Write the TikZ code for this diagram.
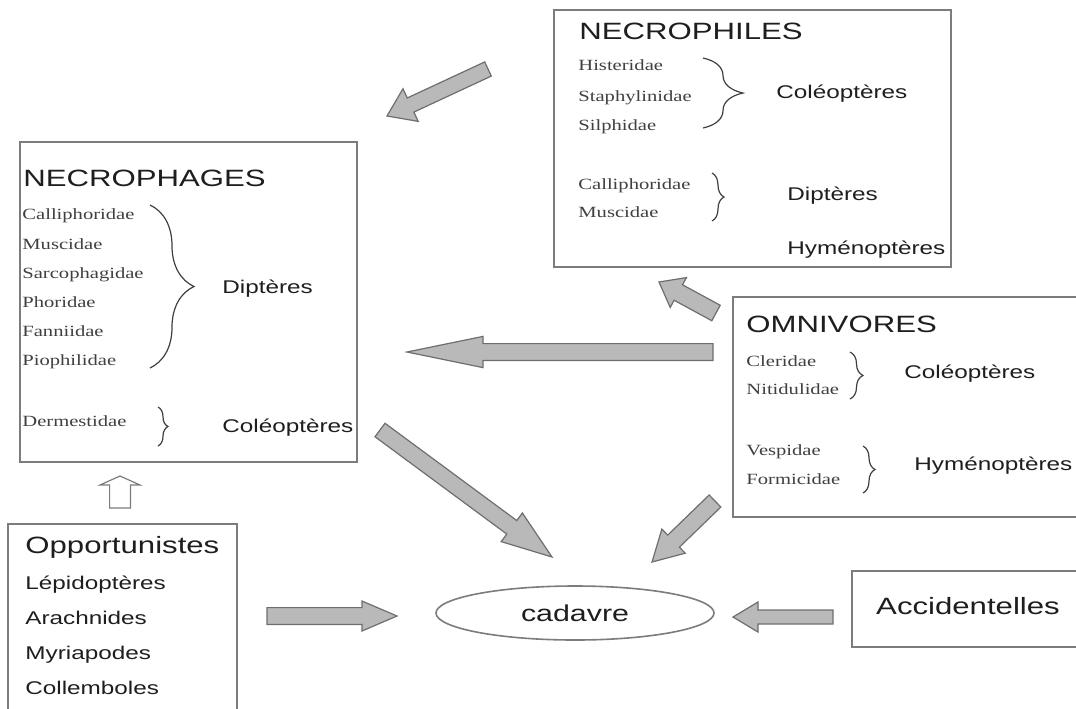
\documentclass[tikz,border=0pt]{standalone}
\usepackage{fontspec}
\setmainfont{Liberation Sans}[FakeStretch=1.32]
\newfontfamily\famfont{Liberation Serif}[FakeStretch=1.32]
\usepackage{tikz}
\usetikzlibrary{calc,shapes.geometric,decorations.pathreplacing}
\definecolor{boxgray}{HTML}{7C7C7C}
\definecolor{inkgray}{HTML}{1E1E1E}
\definecolor{famgray}{HTML}{404040}
\definecolor{arrowfill}{HTML}{B9B9B9}
\definecolor{arrowline}{HTML}{6E6E6E}
\tikzset{
  box/.style={draw=boxgray,line width=0.8pt},
  title/.style={anchor=west,inner sep=0,text height=.72em,text depth=0pt,text=inkgray,font=\fontsize{11.8}{14}\selectfont},
  order/.style={anchor=west,inner sep=0,text height=.72em,text depth=0pt,text=inkgray,font=\fontsize{9.2}{11}\selectfont},
  family/.style={anchor=west,inner sep=0,text height=.45em,text depth=0pt,text=famgray,font=\famfont\fontsize{7.8}{9}\selectfont},
  curly/.style={decorate,decoration={brace,amplitude=#1},draw=famgray,line width=0.6pt},
  grayarrow/.style={draw=arrowline,fill=arrowfill,line width=0.6pt,line join=miter}
}
% tail, tip, half shaft, half head, head length
\newcommand{\blockarrow}[6][]{%
  \path ($(#3)!#6!(#2)$) coordinate (hb);
  \draw[grayarrow,#1] ($(#2)!#4!-90:(#3)$) -- ($(hb)!#4!-90:(#3)$) -- ($(hb)!#5!-90:(#3)$) -- (#3)
    -- ($(hb)!#5!90:(#3)$) -- ($(hb)!#4!90:(#3)$) -- ($(#2)!#4!90:(#3)$) -- cycle;}

\begin{document}
\begin{tikzpicture}[x=0.5pt,y=-0.5pt]
\useasboundingbox (0,0) rectangle (1076,708);
\fill[white] (0,0) rectangle (1076,708);
\clip (0,0) rectangle (1076,708);

% boxes
\draw[box] (20,142) rectangle (357,462);
\draw[box] (554,10) rectangle (951,267);
\draw[box] (733,297) rectangle (1100,517);
\draw[box] (8,524) rectangle (237,730);
\draw[box] (852,571) rectangle (1100,647);

% necrophages
\node[title] (phages) at (23,179) {NECROPHAGES};
\node[family] (calli) at (22,215) {Calliphoridae};
\node[family] (musci) at (22,245) {Muscidae};
\node[family] (sarco) at (22,274) {Sarcophagidae};
\node[family] (phori) at (22,303) {Phoridae};
\node[family] (fanni) at (22,332) {Fanniidae};
\node[family] (piophi) at (22,361) {Piophilidae};
\node[family] (dermes) at (22,422) {Dermestidae};
\draw[curly=22pt] (150,205) -- (150,368);
\draw[curly=5pt] (158,407) -- (158,446);
\node[order] (phagesdipt) at (222,286) {Diptères};
\node[order] (phagescoleo) at (222,425) {Coléoptères};

% necrophiles
\node[title] (philes) at (579,32) {NECROPHILES};
\node[family] (hister) at (578,66) {Histeridae};
\node[family] (staphy) at (578,97) {Staphylinidae};
\node[family] (silphi) at (578,126) {Silphidae};
\node[family] (calli2) at (578,185) {Calliphoridae};
\node[family] (musci2) at (578,213) {Muscidae};
\draw[curly=20pt] (703,58) -- (703,128);
\draw[curly=6pt] (712,173) -- (712,221);
\node[order] (philescoleo) at (776,91) {Coléoptères};
\node[order] (philesdipt) at (787,193) {Diptères};
\node[order] (phileshymen) at (787,247) {Hyménoptères};

% omnivores
\node[title] (omni) at (746,325) {OMNIVORES};
\node[family] (cleri) at (746,362) {Cleridae};
\node[family] (nitidu) at (746,390) {Nitidulidae};
\node[family] (vespi) at (746,451) {Vespidae};
\node[family] (formi) at (746,480) {Formicidae};
\draw[curly=6.5pt] (850,352) -- (850,399);
\draw[curly=6pt] (863,446) -- (863,493);
\node[order] (omnicoleo) at (904,371) {Coléoptères};
\node[order] (omnihymen) at (914,463) {Hyménoptères};

% opportunistes
\node[title] (opport) at (25,546) {Opportunistes};
\node[order] (lepido) at (25,582) {Lépidoptères};
\node[order] (arach) at (25,617) {Arachnides};
\node[order] (myria) at (25,652) {Myriapodes};
\node[order] (collem) at (25,687) {Collemboles};

% cadavre, accidentelles
\node[ellipse,draw=boxgray,line width=0.8pt,minimum width=139pt,minimum height=27pt,inner sep=0,
  text=inkgray,font=\fontsize{11.5}{14}\selectfont] (cadavre) at (575,613) {cadavre};
\node[text=inkgray,inner sep=0,font=\fontsize{11.8}{14}\selectfont] (accid) at (968,606) {Accidentelles};

% arrows
\coordinate (philesout) at (488,69);
\coordinate (phagesin) at (387,116);
\coordinate (omniup) at (716,313);
\coordinate (philesin) at (659,282);
\coordinate (omnileft) at (713,352);
\coordinate (phagesin2) at (407,352);
\coordinate (phagesout) at (380,430);
\coordinate (cadtop) at (552,557);
\coordinate (omnidown) at (715,501);
\coordinate (cadright) at (652,562);
\coordinate (opportout) at (267,616);
\coordinate (cadleft) at (397,616);
\coordinate (accidout) at (833,617);
\coordinate (cadeast) at (733,617);
\coordinate (opportup) at (120,508);
\coordinate (phagesbot) at (120,476);
\blockarrow{philesout}{phagesin}{3.9pt}{9pt}{13pt}
\blockarrow{omniup}{philesin}{4.4pt}{8.5pt}{11pt}
\blockarrow{omnileft}{phagesin2}{4.2pt}{7.8pt}{38pt}
\blockarrow{phagesout}{cadtop}{4.2pt}{8.9pt}{25pt}
\blockarrow{omnidown}{cadright}{4.2pt}{8.4pt}{15pt}
\blockarrow{opportout}{cadleft}{4.2pt}{7.5pt}{17.5pt}
\blockarrow{accidout}{cadeast}{3.5pt}{7.5pt}{12.5pt}
\blockarrow[fill=white,draw=boxgray]{opportup}{phagesbot}{5.2pt}{10pt}{4.5pt}
\end{tikzpicture}
\end{document}
